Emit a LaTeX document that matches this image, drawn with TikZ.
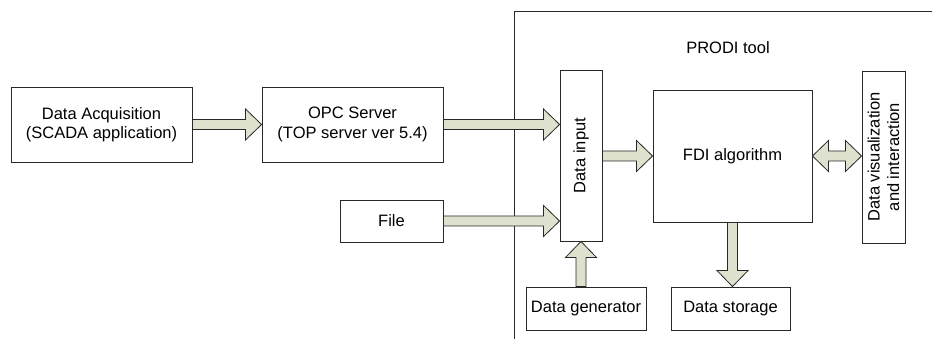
\documentclass[tikz,border=0pt]{standalone}
\usepackage{fontspec}
\setmainfont{Liberation Sans}
\usetikzlibrary{calc,positioning}

\definecolor{arrowfill}{RGB}{221,225,206}
\definecolor{edge}{RGB}{40,40,40}

\tikzset{
  blk/.style={draw=edge,line width=0.9pt,inner sep=0pt,align=center,font=\fontsize{16.5}{19.5}\selectfont},
  fat/.style={draw=edge,line width=0.8pt,fill=arrowfill,line join=miter}
}

% block arrow from #1 to #2
\newcommand{\fatarrow}[2]{%
  \coordinate (s) at (#1); \coordinate (t) at (#2);
  \coordinate (h) at ($(t)!16pt!(s)$);
  \draw[fat] ($(s)!5pt!90:(t)$) -- ($(h)!5pt!-90:(s)$) -- ($(h)!15.5pt!-90:(s)$) -- (t)
    -- ($(h)!15.5pt!90:(s)$) -- ($(h)!5pt!90:(s)$) -- ($(s)!5pt!-90:(t)$) -- cycle;}
% block arrow with heads at both ends
\newcommand{\dblarrow}[2]{%
  \coordinate (s) at (#1); \coordinate (t) at (#2);
  \coordinate (h) at ($(t)!16pt!(s)$); \coordinate (g) at ($(s)!16pt!(t)$);
  \draw[fat] (s) -- ($(g)!15.5pt!90:(t)$) -- ($(g)!5pt!90:(t)$) -- ($(h)!5pt!-90:(s)$)
    -- ($(h)!15.5pt!-90:(s)$) -- (t) -- ($(h)!15.5pt!90:(s)$) -- ($(h)!5pt!90:(s)$)
    -- ($(g)!5pt!-90:(t)$) -- ($(g)!15.5pt!-90:(t)$) -- cycle;}

\begin{document}
\begin{tikzpicture}[x=1pt,y=-1pt]
\useasboundingbox (0,0) rectangle (932,339);

% tool frame
\draw[edge,line width=0.9pt] (514,339) -- (514,11) -- (932,11);
\node[font=\fontsize{16.5}{19.5}\selectfont] (tool) at (728,48) {PRODI tool};

\node[blk,minimum width=181,minimum height=75] (acq) at (101.5,124.5) {Data Acquisition\\(SCADA application)};
\node[blk,minimum width=181,minimum height=75] (opc) at (352.5,124.5) {OPC Server\\(TOP server ver 5.4)};
\node[blk,minimum width=103,minimum height=42] (file) at (391.5,221) {File};
\node[blk,minimum width=171,minimum height=42,rotate=90] (din) at (581,155.5) {Data input};
\node[blk,minimum width=159,minimum height=132] (fdi) at (732.5,156) {FDI algorithm};
\node[blk,minimum width=172,minimum height=43,rotate=90] (vis) at (883.5,157) {Data visualization\\and interaction};
\node[blk,minimum width=120,minimum height=43] (gen) at (586,308.5) {Data generator};
\node[blk,minimum width=119,minimum height=43] (sto) at (730.5,308.5) {Data storage};

\fatarrow{acq.east}{opc.west}
\fatarrow{opc.east}{opc.east -| din.north}
\fatarrow{file.east}{file.east -| din.north}
\fatarrow{din.south |- fdi.west}{fdi.west}
\fatarrow{din.west |- gen.north}{din.west}
\fatarrow{fdi.south}{fdi.south |- sto.north}
\dblarrow{fdi.east}{fdi.east -| vis.north}

\end{tikzpicture}
\end{document}
